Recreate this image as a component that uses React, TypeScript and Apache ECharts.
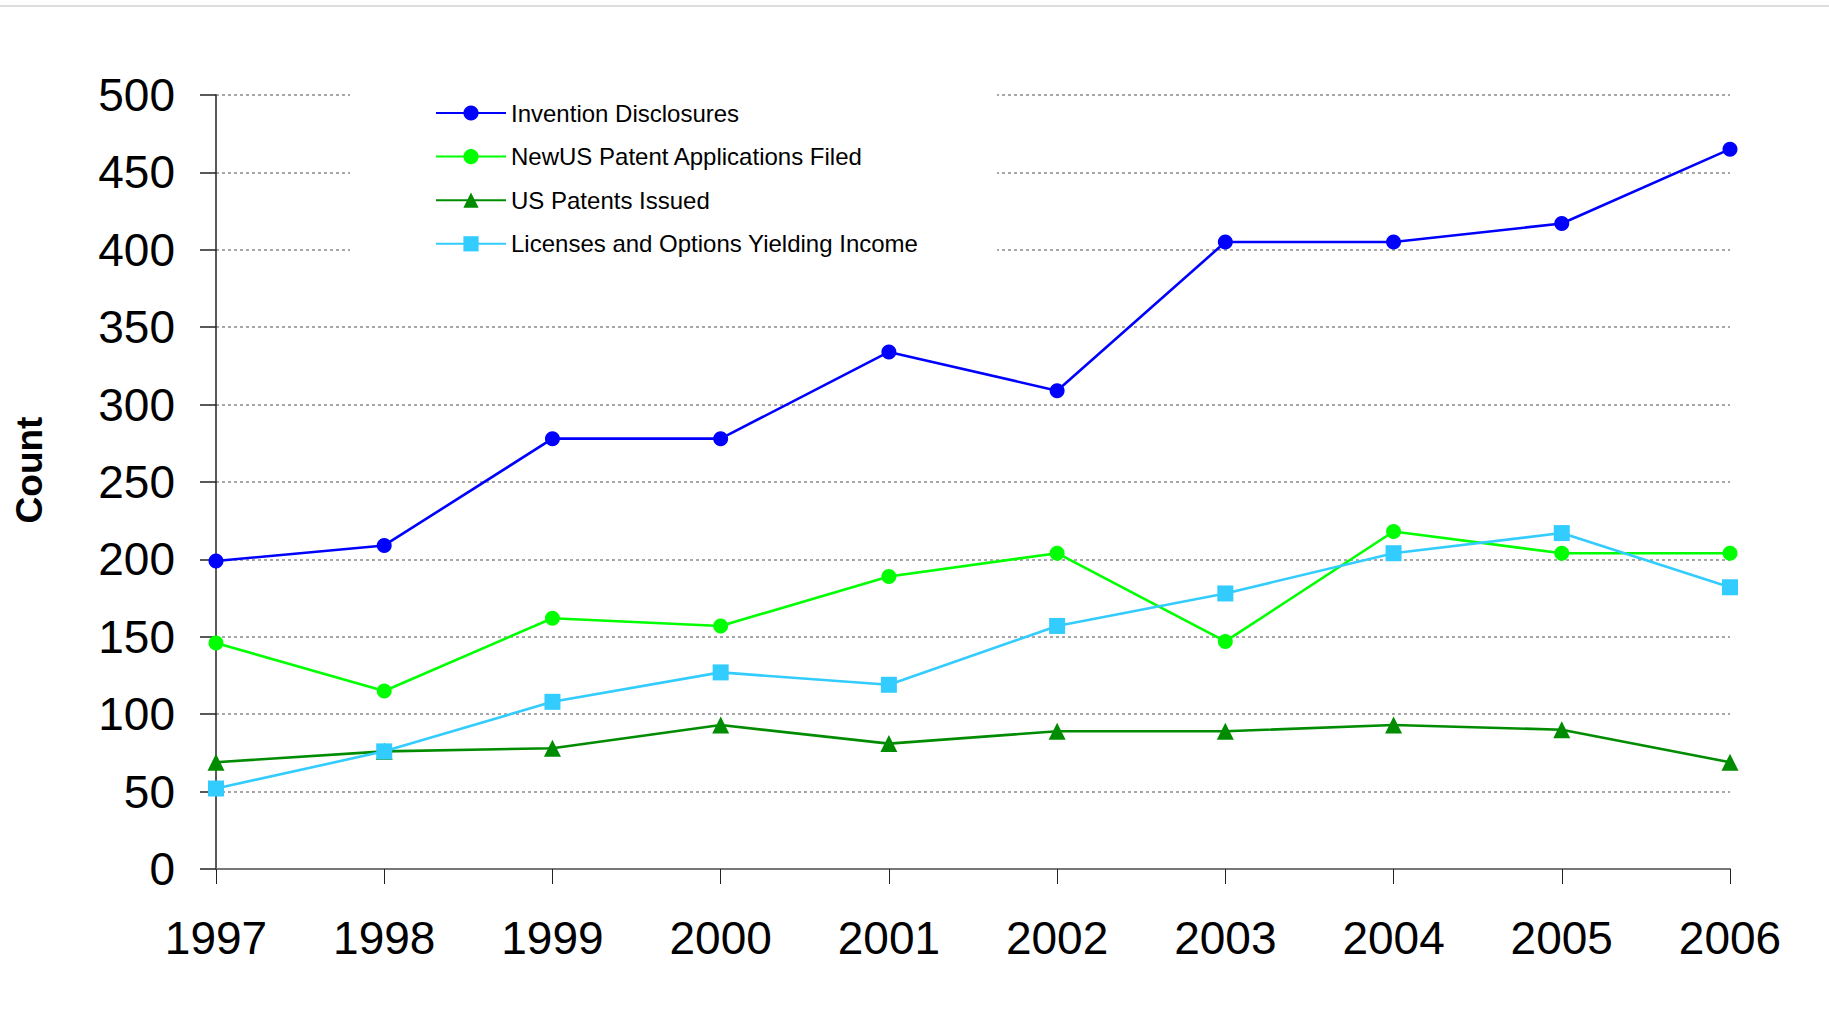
import React, { useEffect, useRef } from "react";
import * as echarts from "echarts";

const years = ["1997", "1998", "1999", "2000", "2001", "2002", "2003", "2004", "2005", "2006"];
const inventionDisclosures = [199, 209, 278, 278, 334, 309, 405, 405, 417, 465];
const patentApplications = [146, 115, 162, 157, 189, 204, 147, 218, 204, 204];
const patentsIssued = [69, 76, 78, 93, 81, 89, 89, 93, 90, 69];
const licensesYieldingIncome = [52, 76, 108, 127, 119, 157, 178, 204, 217, 182];

const seriesNames = [
  "Invention Disclosures",
  "NewUS Patent Applications Filed",
  "US Patents Issued",
  "Licenses and Options Yielding Income",
];

const FONT = "'Liberation Sans', Arial, sans-serif";

export default function App() {
  const ref = useRef<HTMLDivElement>(null);

  useEffect(() => {
    if (!ref.current) return;
    const chart = echarts.init(ref.current, null, { renderer: "svg" });

    const lineSeries = (
      name: string,
      data: number[],
      color: string,
      symbol: string,
      symbolSize: number
    ) => ({
      name,
      type: "line",
      data,
      symbol,
      symbolSize,
      showSymbol: true,
      itemStyle: { color },
      lineStyle: { color, width: 2.6 },
      emphasis: { disabled: true },
    });

    chart.setOption({
      animation: false,
      backgroundColor: "#ffffff",
      textStyle: { fontFamily: FONT },
      grid: { left: 216, right: 99, top: 95, bottom: 149, containLabel: false },
      legend: {
        orient: "vertical",
        left: 435,
        top: 101,
        padding: 0,
        itemWidth: 70,
        itemHeight: 19,
        itemGap: 19.6,
        data: seriesNames,
        textStyle: { fontFamily: FONT, fontSize: 24, color: "#000", lineHeight: 24 },
      },
      graphic: [
        {
          type: "line",
          z: 3,
          shape: { x1: 0, y1: 6, x2: 1829, y2: 6 },
          style: { stroke: "#dddddd", lineWidth: 2 },
        },
        {
          type: "rect",
          z: 3,
          shape: { x: 350, y: 82, width: 647, height: 185 },
          style: { fill: "#ffffff" },
        },
        {
          type: "text",
          z: 5,
          x: 29,
          y: 470,
          rotation: Math.PI / 2,
          style: {
            text: "Count",
            fontFamily: FONT,
            fontSize: 37,
            fontWeight: "bold",
            fill: "#000",
            align: "center",
            verticalAlign: "middle",
          },
        },
      ],
      xAxis: {
        type: "category",
        data: years,
        boundaryGap: false,
        axisLine: { show: true, lineStyle: { color: "#777777", width: 2 } },
        axisTick: { show: true, length: 15, lineStyle: { color: "#222", width: 1 } },
        axisLabel: { fontFamily: FONT, fontSize: 46, color: "#000", margin: 46 },
        splitLine: { show: false },
      },
      yAxis: {
        type: "value",
        min: 0,
        max: 500,
        interval: 50,
        axisLine: { show: true, lineStyle: { color: "#222", width: 1.5 } },
        axisTick: { show: true, length: 16, lineStyle: { color: "#222", width: 1.5 } },
        axisLabel: { fontFamily: FONT, fontSize: 46, color: "#000", margin: 41 },
        splitLine: {
          show: true,
          lineStyle: { color: "#8a8a8a", width: 1.5, type: [3, 3] },
        },
      },
      series: [
        lineSeries(seriesNames[0], inventionDisclosures, "#0000ff", "circle", 15),
        lineSeries(seriesNames[1], patentApplications, "#00ff00", "circle", 15),
        lineSeries(seriesNames[2], patentsIssued, "#008c00", "triangle", 17),
        lineSeries(seriesNames[3], licensesYieldingIncome, "#33ccff", "rect", 16),
      ],
    });

    return () => chart.dispose();
  }, []);

  return (
    <div
      ref={ref}
      style={{ position: "fixed", left: 0, top: 0, width: 1829, height: 1018, background: "#fff" }}
    />
  );
}
